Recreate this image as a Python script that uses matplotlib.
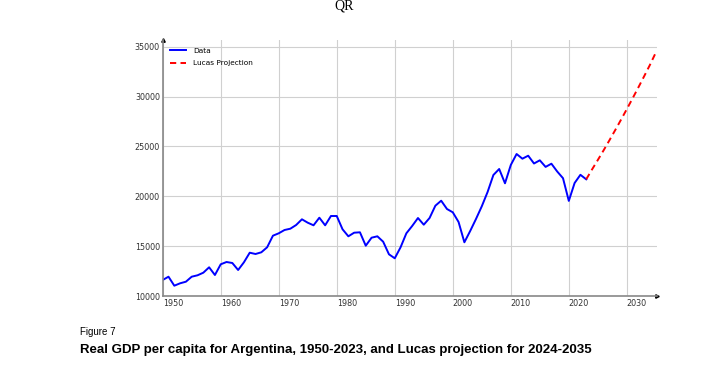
import matplotlib
matplotlib.use('Agg')
import matplotlib.pyplot as plt

# Real GDP per capita, Argentina
years = list(range(1950, 2024))
gdp = [11650, 11980, 11080, 11320, 11480, 11980, 12120, 12380, 12920, 12150,
       13220, 13450, 13350, 12650, 13420, 14380, 14250, 14420, 14920, 16080,
       16320, 16650, 16780, 17150, 17720, 17380, 17120, 17880, 17120, 18050,
       18050, 16720, 16020, 16380, 16420, 15080, 15880, 16020, 15480, 14220,
       13820, 14920, 16320, 17050, 17850, 17180, 17850, 19080, 19580, 18750,
       18420, 17450, 15420, 16550, 17750, 19020, 20450, 22150, 22750, 21320,
       23150, 24250, 23780, 24080, 23300, 23620, 22960, 23280, 22500, 21830,
       19560, 21350, 22170, 21720]

# Lucas projection (starts from the last observed year)
proj_years = list(range(2023, 2036))
proj_gdp = [21720, 22700, 23650, 24620, 25620, 26640, 27680, 28740, 29820,
            30920, 32040, 33180, 34400]

fig = plt.figure(figsize=(7.27, 3.68), dpi=100)
ax = fig.add_axes([0.2238, 0.1943, 0.6799, 0.6970])

ax.plot(years, gdp, color='#0000ff', lw=1.4, label='Data')
ax.plot(proj_years, proj_gdp, color='#ff0000', lw=1.4, ls=(0, (3.2, 2.2)),
        label='Lucas Projection')

ax.set_xlim(1950, 2035.2)
ax.set_ylim(10000, 35650)
ax.set_xticks(range(1950, 2031, 10))
ax.set_yticks(range(10000, 35001, 5000))
ax.grid(True, color='#d0d0d0', lw=0.8)
ax.set_axisbelow(True)

for s in ['top', 'right']:
    ax.spines[s].set_visible(False)
for s in ['left', 'bottom']:
    ax.spines[s].set_color('#888888')
    ax.spines[s].set_linewidth(1.2)
ax.plot(1, 0, '>', color='black', ms=2.5, transform=ax.transAxes, clip_on=False)
ax.plot(0, 1, '^', color='black', ms=2.5, transform=ax.transAxes, clip_on=False)

ax.tick_params(length=0, labelsize=5.8, colors='#333333', pad=2)
for lbl in ax.get_xticklabels():
    lbl.set_horizontalalignment('left')

leg = ax.legend(loc='upper left', frameon=False, fontsize=5.3,
                handlelength=2.2, handletextpad=0.9, borderaxespad=0.6,
                labelspacing=0.9)

fig.text(0.473, 0.983, 'QR', family='Liberation Serif', fontsize=10,
         ha='center', va='center')
fig.text(0.110, 0.098, 'Figure 7', family=['Liberation Sans Narrow', 'Liberation Sans'],
         fontsize=7, ha='left', va='center')
fig.text(0.110, 0.050, 'Real GDP per capita for Argentina, 1950-2023, and Lucas projection for 2024-2035',
         family='Liberation Sans', fontweight='bold', fontsize=9.5, ha='left', va='center')

fig.savefig('out.png', dpi=100)
